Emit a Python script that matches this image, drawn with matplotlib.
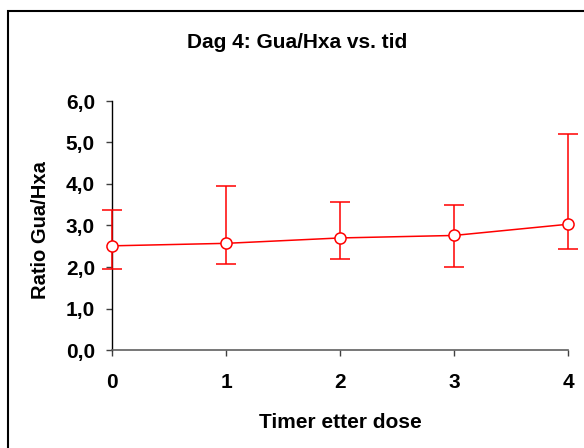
import matplotlib
matplotlib.use("Agg")
import matplotlib.pyplot as plt
from matplotlib.patches import Rectangle

hours = [0, 1, 2, 3, 4]
ratio = [2.51, 2.57, 2.70, 2.76, 3.03]
err_low = [0.57, 0.49, 0.51, 0.75, 0.60]
err_high = [0.86, 1.38, 0.87, 0.73, 2.17]
yticks = [0.0, 1.0, 2.0, 3.0, 4.0, 5.0, 6.0]
ytick_labels = ["0,0", "1,0", "2,0", "3,0", "4,0", "5,0", "6,0"]

plt.rcParams['font.family'] = ['Liberation Sans', 'DejaVu Sans']
plt.rcParams['font.weight'] = 'bold'

fig = plt.figure(figsize=(5.84, 4.48), dpi=100)
ax = fig.add_axes([112/584, 1-350/448, (568-112)/584, (350-101)/448])

ax.errorbar(hours, ratio, yerr=[err_low, err_high], color='#FF0000', lw=1.1,
            marker='o', ms=8, mfc='white', mec='#FF0000', mew=1.1,
            capsize=7, elinewidth=1.1, capthick=1.1, clip_on=False, zorder=3)

ax.set_xlim(0, 4)
ax.set_ylim(0, 6)
ax.set_yticks(yticks)
ax.set_yticklabels(ytick_labels)
ax.set_xticks(hours)
ax.tick_params(axis='both', direction='out', length=4.3, width=1, labelsize=15, color='#404040')
ax.tick_params(axis='x', pad=12)
ax.tick_params(axis='y', pad=8)
for lab in ax.get_xticklabels() + ax.get_yticklabels():
    lab.set_fontweight('bold')
ax.spines['top'].set_visible(False)
ax.spines['right'].set_visible(False)
ax.spines['left'].set_color('#000000')
ax.spines['bottom'].set_color('#606060')
ax.spines['left'].set_linewidth(1)
ax.spines['bottom'].set_linewidth(1.2)

ax.set_xlabel("Timer etter dose", fontsize=15, fontweight='bold', va='center')
ax.xaxis.set_label_coords(340/584, 1-422/448, transform=fig.transFigure)
ax.set_ylabel("Ratio Gua/Hxa", fontsize=14.5, fontweight='bold', va='center')
ax.yaxis.set_label_coords(41/584, 1-230/448, transform=fig.transFigure)
fig.text(297/584, 1-42/448, "Dag 4: Gua/Hxa vs. tid", ha='center', va='center',
         fontsize=15, fontweight='bold')

fig.patches.append(Rectangle((7.5/584, -0.1), 1.0, 1.1 - 11.5/448, transform=fig.transFigure,
                             fill=False, edgecolor='black', lw=1.5))

fig.savefig("out.png", dpi=100)
